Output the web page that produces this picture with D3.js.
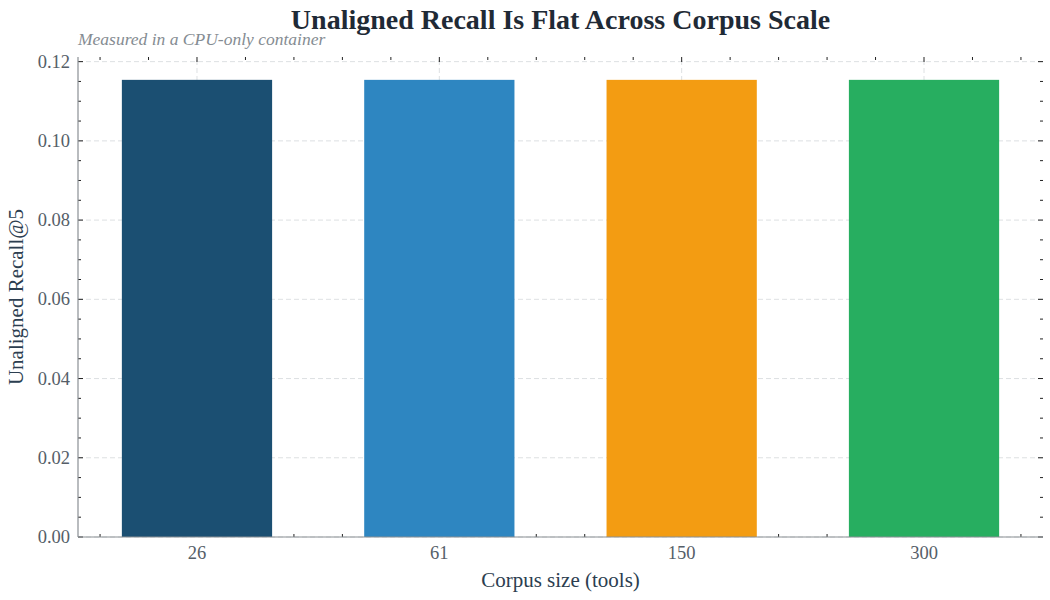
<!DOCTYPE html>
<html>
<head>
    <meta charset="UTF-8">
    <title>Unaligned Recall</title>
    <script src="https://d3js.org/d3.v7.min.js"></script>
    <style>
        *{
            padding:0;
            margin:0;
        }
        body {
            background: #fff;
        }
        text {
            font-family: "Liberation Serif", "DejaVu Serif", serif;
        }
        .grid line {
            stroke: #d9dcdf;
            stroke-width: 0.9px;
            stroke-dasharray: 5 3;
        }
        .tick-label {
            fill: #555e68;
            font-size: 18.5px;
        }
    </style>
</head>
<body>
    <svg id='main' width="1050" height="600"></svg>
    <script>
// chart data
const categories = ["26", "61", "150", "300"];
const recall = [0.1154, 0.1154, 0.1154, 0.1154];
const barColors = ["#1b4f72", "#2e86c1", "#f39c12", "#27ae60"];
const yTicks = [0, 0.02, 0.04, 0.06, 0.08, 0.10, 0.12];

const svg = d3.select("#main"),
    width = +svg.attr("width"),
    height = +svg.attr("height");

const margin = { top: 57, right: 7, bottom: 63, left: 78 };
const x0 = margin.left, x1 = width - margin.right;
const y0 = height - margin.bottom, y1 = margin.top;

// categorical positions 0..n-1 like matplotlib, bar width 0.62, 5% margins
const barW = 0.62;
const n = categories.length;
const span = (n - 1) + barW;
const x = d3.scaleLinear()
    .domain([-barW / 2 - span * 0.05, (n - 1) + barW / 2 + span * 0.05])
    .range([x0, x1]);
const y = d3.scaleLinear()
    .domain([0, d3.max(recall) * 1.05])
    .range([y0, y1]);

const centers = d3.range(n);
const minorX = d3.range(Math.ceil(x.domain()[0] * 5), Math.floor(x.domain()[1] * 5) + 1)
    .map(i => i / 5)
    .filter(v => Math.abs(v - Math.round(v)) > 1e-6);
const minorY = d3.range(0, Math.floor(y.domain()[1] / 0.005) + 1)
    .map(i => i * 0.005)
    .filter(v => Math.abs(v / 0.02 - Math.round(v / 0.02)) > 1e-6);

// gridlines
const grid = svg.append("g").attr("class", "grid");
grid.selectAll(".gy").data(yTicks).enter().append("line")
    .attr("x1", x0).attr("x2", x1)
    .attr("y1", d => y(d)).attr("y2", d => y(d));
grid.selectAll(".gx").data(centers).enter().append("line")
    .attr("x1", d => x(d)).attr("x2", d => x(d))
    .attr("y1", y0).attr("y2", y1);

// inward ticks on all four sides (drawn below the bars)
const ticks = svg.append("g").attr("stroke", "#222").attr("stroke-width", 1);
function tickSet(data, len, fn) {
    ticks.append("g").selectAll("line").data(data).enter().append("line").each(function(d) {
        const t = fn(d, len);
        d3.select(this).attr("x1", t[0]).attr("y1", t[1]).attr("x2", t[2]).attr("y2", t[3]);
    });
}
tickSet(yTicks, 5, (d, l) => [x0, y(d), x0 + l, y(d)]);
tickSet(minorY, 3, (d, l) => [x0, y(d), x0 + l, y(d)]);
tickSet(yTicks, 5, (d, l) => [x1, y(d), x1 - l, y(d)]);
tickSet(minorY, 3, (d, l) => [x1, y(d), x1 - l, y(d)]);
tickSet(centers, 5, (d, l) => [x(d), y0, x(d), y0 - l]);
tickSet(minorX, 3, (d, l) => [x(d), y0, x(d), y0 - l]);
tickSet(centers, 5, (d, l) => [x(d), y1, x(d), y1 + l]);
tickSet(minorX, 3, (d, l) => [x(d), y1, x(d), y1 + l]);

// bars
svg.append("g").selectAll("rect")
    .data(recall)
    .enter().append("rect")
    .attr("x", (d, i) => x(i - barW / 2))
    .attr("width", x(barW) - x(0))
    .attr("y", d => y(d))
    .attr("height", d => y(0) - y(d))
    .attr("fill", (d, i) => barColors[i]);

// spines
svg.append("line").attr("x1", x0).attr("x2", x0).attr("y1", y0).attr("y2", y1)
    .attr("stroke", "#8a8f94").attr("stroke-width", 1.2);
svg.append("line").attr("x1", x0).attr("x2", x1).attr("y1", y0).attr("y2", y0)
    .attr("stroke", "#8a8f94").attr("stroke-width", 1.2);

// tick labels
svg.append("g").selectAll("text").data(yTicks).enter().append("text")
    .attr("class", "tick-label")
    .attr("x", x0 - 8)
    .attr("y", d => y(d) + 6)
    .attr("text-anchor", "end")
    .text(d => d3.format(".2f")(d));
svg.append("g").selectAll("text").data(categories).enter().append("text")
    .attr("class", "tick-label")
    .attr("x", (d, i) => x(i))
    .attr("y", y0 + 22)
    .attr("text-anchor", "middle")
    .text(d => d);

// axis labels
svg.append("text")
    .attr("x", (x0 + x1) / 2)
    .attr("y", 587)
    .attr("text-anchor", "middle")
    .attr("fill", "#2c3e50")
    .style("font-size", "21px")
    .text("Corpus size (tools)");
svg.append("text")
    .attr("transform", `translate(23,${(y0 + y1) / 2}) rotate(-90)`)
    .attr("text-anchor", "middle")
    .attr("fill", "#2c3e50")
    .style("font-size", "21px")
    .text("Unaligned Recall@5");

// title and subtitle
svg.append("text")
    .attr("x", (x0 + x1) / 2)
    .attr("y", 29)
    .attr("text-anchor", "middle")
    .attr("fill", "#1f2a36")
    .style("font-size", "28px")
    .style("font-weight", "bold")
    .text("Unaligned Recall Is Flat Across Corpus Scale");
svg.append("text")
    .attr("x", x0)
    .attr("y", 45)
    .attr("fill", "#858c92")
    .style("font-size", "17.5px")
    .style("font-style", "italic")
    .text("Measured in a CPU-only container");
    </script>
</body>
</html>
